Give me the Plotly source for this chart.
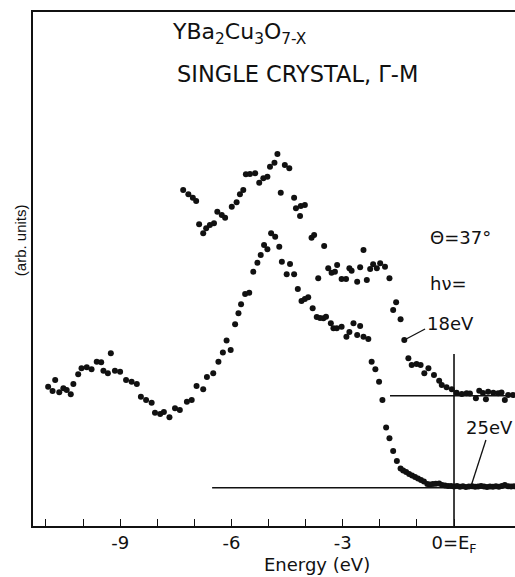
import plotly.graph_objects as go

# ---------------- data ----------------
# 25 eV spectrum (lower curve): energy (eV), intensity (arb. units)
e25 = [-10.94, -10.82, -10.75, -10.64, -10.53, -10.44, -10.33, -10.26, -10.13, -10.04,
       -9.90, -9.77, -9.63, -9.51, -9.45, -9.33, -9.25, -9.14, -9.00, -8.84,
       -8.69, -8.55, -8.44, -8.30, -8.15, -8.06, -7.92, -7.82, -7.67, -7.52,
       -7.39, -7.20, -7.07, -6.94, -6.76, -6.66, -6.49, -6.35, -6.23, -6.13,
       -6.02, -5.90, -5.81, -5.74, -5.63, -5.52, -5.41, -5.30, -5.21, -5.12,
       -5.03, -4.93, -4.82, -4.71, -4.64, -4.51, -4.42, -4.31, -4.21, -4.11,
       -4.02, -3.93, -3.81, -3.70, -3.61, -3.52, -3.45, -3.32, -3.25, -3.16,
       -3.03, -2.90, -2.82, -2.71, -2.61, -2.53, -2.44, -2.31, -2.22, -2.12,
       -2.02, -1.93, -1.83, -1.74, -1.64, -1.54, -1.44, -1.37, -1.29, -1.21,
       -1.13, -1.05, -0.97, -0.89, -0.81, -0.72, -0.65, -0.57, -0.49, -0.40,
       -0.32, -0.24, -0.16, -0.08, 0.00, 0.08, 0.16, 0.24, 0.32, 0.40,
       0.49, 0.57, 0.65, 0.73, 0.81, 0.89, 0.97, 1.05, 1.13, 1.21,
       1.29, 1.37, 1.46, 1.54, 1.62]
i25 = [13.93, 13.50, 14.60, 13.37, 13.77, 13.60, 13.17, 14.20, 15.17, 15.77,
       15.87, 15.67, 16.43, 16.37, 15.53, 15.27, 17.27, 15.53, 15.43, 14.60,
       14.43, 14.20, 12.93, 12.60, 12.33, 11.33, 11.20, 11.40, 10.87, 11.77,
       11.60, 12.43, 12.60, 14.00, 13.67, 14.90, 15.27, 16.43, 17.35, 18.55,
       17.60, 20.17, 21.27, 22.17, 23.20, 23.33, 25.43, 26.33, 27.10, 28.10,
       27.67, 29.27, 28.93, 27.93, 26.43, 25.17, 26.20, 25.17, 23.70, 22.50,
       22.70, 22.87, 21.77, 20.90, 20.80, 20.77, 20.93, 20.27, 19.77, 19.77,
       19.93, 18.93, 19.40, 20.27, 19.10, 20.00, 18.93, 18.70, 16.43, 15.67,
       14.43, 12.60, 9.85, 8.77, 7.50, 6.50, 5.75, 5.55, 5.40, 5.20,
       5.05, 4.90, 4.75, 4.60, 4.45, 4.20, 4.15, 4.20, 4.22, 4.25,
       4.10, 4.05, 4.00, 4.00, 3.95, 4.00, 3.92, 3.97, 3.90, 3.95,
       3.98, 3.92, 3.95, 4.00, 3.94, 3.91, 3.96, 3.93, 3.97, 3.92,
       4.00, 4.10, 3.98, 3.95, 3.97]

# 18 eV spectrum (upper curve)
e18 = [-7.30, -7.16, -7.04, -6.95, -6.87, -6.76, -6.68, -6.58, -6.47, -6.38,
       -6.26, -6.17, -5.99, -5.86, -5.77, -5.68, -5.61, -5.50, -5.36, -5.25,
       -5.14, -5.03, -4.96, -4.84, -4.76, -4.67, -4.56, -4.44, -4.31, -4.26,
       -4.15, -4.13, -4.02, -3.84, -3.77, -3.66, -3.50, -3.39, -3.30, -3.21,
       -3.15, -3.03, -2.91, -2.82, -2.76, -2.61, -2.53, -2.44, -2.35, -2.26,
       -2.18, -2.08, -1.99, -1.86, -1.74, -1.64, -1.56, -1.44, -1.34, -1.23,
       -1.14, -1.01, -0.90, -0.80, -0.69, -0.54, -0.40, -0.33, -0.20, -0.06,
       0.07, 0.21, 0.34, 0.43, 0.59, 0.68, 0.78, 0.86, 0.92, 1.06,
       1.19, 1.28, 1.37, 1.46, 1.59]
i18 = [33.60, 33.17, 32.83, 32.50, 30.17, 29.27, 29.77, 30.10, 30.27, 31.43,
       31.10, 30.83, 31.93, 32.37, 33.17, 33.60, 35.17, 35.20, 35.27, 34.33,
       34.77, 34.93, 35.93, 36.33, 37.20, 33.33, 36.10, 35.77, 32.83, 31.77,
       31.00, 32.00, 32.10, 28.83, 29.10, 24.77, 28.00, 25.77, 25.33, 25.43,
       26.10, 24.70, 24.70, 25.77, 25.53, 24.43, 25.87, 27.60, 24.60, 25.70,
       26.17, 25.77, 26.27, 25.93, 24.77, 21.60, 22.37, 20.67, 18.60, 16.77,
       16.10, 16.20, 16.10, 15.27, 15.77, 15.10, 14.53, 14.10, 13.87, 13.67,
       13.33, 13.20, 13.27, 13.25, 12.77, 13.53, 13.30, 12.67, 13.43, 13.33,
       13.27, 13.35, 12.60, 13.10, 13.10]

# baselines of the two spectra and the Fermi-level marker
base25 = 3.83
base25_start = -6.52
base18 = 13.03
base18_start = -1.725
ef_top = 17.2

tick_vals = [-11, -10, -9, -8, -7, -6, -5, -4, -3, -2, -1, 0]
tick_text = ["", "", "-9", "", "", "-6", "", "", "-3", "", "", "0=E<sub>F</sub>"]

x_range = [-11.348, 1.644]
y_range = [0, 51.4]

# ---------------- figure ----------------
INK = "#111111"
FONT = "DejaVu Sans"

fig = go.Figure()
fig.add_trace(go.Scatter(x=e25, y=i25, mode="markers",
                         marker=dict(size=6, color=INK), showlegend=False))
fig.add_trace(go.Scatter(x=e18, y=i18, mode="markers",
                         marker=dict(size=6, color=INK), showlegend=False))

line = dict(color=INK, width=1.6)
fig.add_shape(type="line", xref="x", yref="y", x0=base25_start, x1=x_range[1],
              y0=base25, y1=base25, line=line)
fig.add_shape(type="line", xref="x", yref="y", x0=base18_start, x1=x_range[1],
              y0=base18, y1=base18, line=line)
fig.add_shape(type="line", xref="x", yref="y", x0=0, x1=0,
              y0=0, y1=ef_top, line=line)
# leader lines for the photon-energy labels
fig.add_shape(type="line", xref="x", yref="y", x0=-1.34, y0=18.6, x1=-0.78, y1=19.7,
              line=dict(color=INK, width=1.3))
fig.add_shape(type="line", xref="x", yref="y", x0=0.86, y0=8.6, x1=0.46, y1=4.0,
              line=dict(color=INK, width=1.3))

def label(x, y, text, size=18, xanchor="left", angle=0, family=FONT, ref="data"):
    xr, yr = ("x", "y") if ref == "data" else ("paper", "paper")
    fig.add_annotation(x=x, y=y, xref=xr, yref=yr, text=text, showarrow=False,
                       xanchor=xanchor, yanchor="middle", textangle=angle,
                       font=dict(family=family, size=size, color=INK))

label(-7.65, 49.3, "YBa<sub>2</sub>Cu<sub>3</sub>O<sub>7-X</sub>", size=22)
label(-7.52, 45.2, "SINGLE CRYSTAL, Γ-M", size=22.5)
label(-0.70, 28.9, "Θ=37°", size=18)
label(-0.70, 24.3, "hν=", size=18)
label(-0.78, 20.3, "18eV", size=18)
label(0.97, 9.9, "25eV", size=18, xanchor="center")
label(0.589, -0.075, "Energy (eV)", size=18, xanchor="center", ref="paper")
label(-0.027, 0.556, "(arb. units)", size=15, xanchor="center", angle=-90,
      family="Liberation Sans", ref="paper")

fig.update_layout(
    width=515, height=577,
    margin=dict(l=33, r=0, t=12, b=51),
    paper_bgcolor="white", plot_bgcolor="white",
    font=dict(family=FONT, color=INK),
    xaxis=dict(range=x_range, tickmode="array", tickvals=tick_vals, ticktext=tick_text,
               ticks="inside", ticklen=7, tickwidth=1.4, tickcolor=INK,
               showline=True, linecolor=INK, linewidth=1.6, mirror=True,
               showgrid=False, zeroline=False,
               tickfont=dict(family=FONT, size=18, color=INK)),
    yaxis=dict(range=y_range, showticklabels=False, ticks="",
               showline=True, linecolor=INK, linewidth=1.6,
               showgrid=False, zeroline=False),
)

fig.write_html("out.html")
